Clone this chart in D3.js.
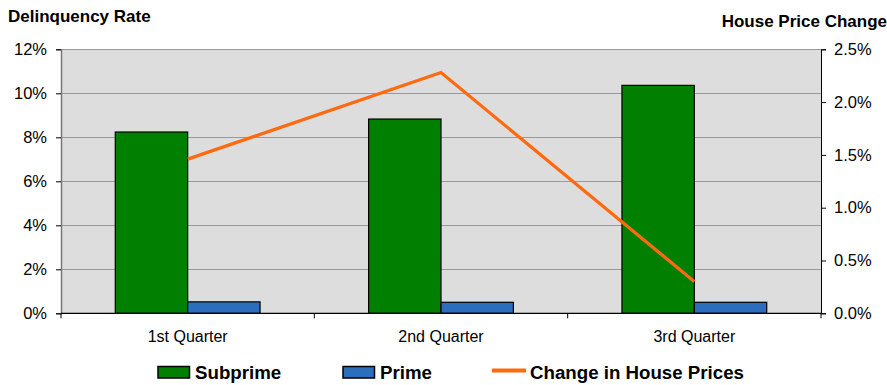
<!DOCTYPE html>
<html><head><meta charset="utf-8">
<script src="https://cdn.jsdelivr.net/npm/d3@7"></script>
<style>
html,body{margin:0;padding:0;background:#fff;}
svg{display:block;font-family:"Liberation Sans",Arial,sans-serif;}
</style></head>
<body><svg id="c" width="887" height="385"></svg>
<script>
const categories = ["1st Quarter", "2nd Quarter", "3rd Quarter"];
const seriesNames = ["Subprime", "Prime"];
const subprime = [8.24, 8.83, 10.36];
const prime = [0.52, 0.5, 0.5];
const housePriceChange = [1.46, 2.28, 0.3];
const leftTicks = [0, 2, 4, 6, 8, 10, 12];
const rightTicks = [0, 0.5, 1.0, 1.5, 2.0, 2.5];
const lineName = "Change in House Prices";

const colors = {Subprime: "#007f00", Prime: "#2a6ebd"};
const lineColor = "#ff6a10";

const svg = d3.select("#c");
const L = 61, R = 821, T = 49.3, B = 313.3;

const x = d3.scaleBand().domain(categories).range([L, R]).padding(0);
const x1 = d3.scaleBand().domain(seriesNames).range([0, x.bandwidth()]).paddingInner(0).paddingOuter(0.75);
const yL = d3.scaleLinear().domain([0, 12]).range([B, T]);
const yR = d3.scaleLinear().domain([0, 2.5]).range([B, T]);

// plot background
svg.append("rect").attr("x", L).attr("y", T).attr("width", R - L).attr("height", B - T).attr("fill", "#dddddd");

// gridlines
svg.append("g").selectAll("line").data(leftTicks.filter(d => d > 0)).join("line")
  .attr("x1", L).attr("x2", R).attr("y1", d => Math.round(yL(d)) + 0.5).attr("y2", d => Math.round(yL(d)) + 0.5)
  .attr("stroke", "#999").attr("stroke-width", 1);

// bars
const data = categories.map((c, i) => ({c, vals: [{s: "Subprime", v: subprime[i]}, {s: "Prime", v: prime[i]}]}));
const g = svg.append("g").selectAll("g").data(data).join("g").attr("transform", d => `translate(${x(d.c)},0)`);
g.selectAll("rect").data(d => d.vals).join("rect")
  .attr("x", d => x1(d.s)).attr("width", x1.bandwidth())
  .attr("y", d => yL(d.v)).attr("height", d => B - yL(d.v))
  .attr("fill", d => colors[d.s]).attr("stroke", "#000").attr("stroke-width", 1.2);

// line
const line = d3.line().x((d, i) => x(categories[i]) + x.bandwidth() / 2).y(d => yR(d));
svg.append("path").datum(housePriceChange).attr("d", line)
  .attr("fill", "none").attr("stroke", lineColor).attr("stroke-width", 3.2).attr("stroke-linejoin", "miter");

// left axis
const ax = svg.append("g").attr("transform", `translate(${L},0)`)
  .call(d3.axisLeft(yL).tickValues(leftTicks).tickSize(5).tickPadding(9).tickFormat(d => d + "%"));
ax.select(".domain").attr("stroke", "#777").attr("stroke-width", 1.5);
ax.selectAll(".tick line").attr("stroke", "#000");
ax.selectAll("text").attr("font-size", 16.5).attr("fill", "#000").attr("font-family", "Liberation Sans, Arial, sans-serif");

// right axis
const ar = svg.append("g").attr("transform", `translate(${R},0)`)
  .call(d3.axisRight(yR).tickValues(rightTicks).tickSize(5).tickPadding(8).tickFormat(d => d.toFixed(1) + "%"));
ar.select(".domain").attr("stroke", "#000");
ar.selectAll(".tick line").attr("stroke", "#000");
ar.selectAll("text").attr("font-size", 16.5).attr("fill", "#000").attr("font-family", "Liberation Sans, Arial, sans-serif");

// bottom axis
const ab = svg.append("g").attr("transform", `translate(0,${B})`);
ab.append("line").attr("x1", L).attr("x2", R).attr("y1", 0).attr("y2", 0).attr("stroke", "#000").attr("stroke-width", 1.2);
const bounds = [L, ...categories.slice(1).map(c => x(c)), R];
ab.selectAll("line.t").data(bounds).join("line").attr("class", "t")
  .attr("x1", d => d).attr("x2", d => d).attr("y1", 0).attr("y2", 5).attr("stroke", "#000");
ab.selectAll("text").data(categories).join("text")
  .attr("x", d => x(d) + x.bandwidth() / 2).attr("y", 28.5).attr("text-anchor", "middle")
  .attr("font-size", 16).attr("fill", "#000").text(d => d);

// titles
svg.append("text").attr("x", 8).attr("y", 22).attr("font-size", 17).attr("font-weight", "bold").text("Delinquency Rate");
svg.append("text").attr("x", 887).attr("y", 27).attr("text-anchor", "end").attr("font-size", 17).attr("font-weight", "bold").text("House Price Change");

// legend
const lg = svg.append("g");
const legItems = [
  {name: "Subprime", type: "box", x: 158},
  {name: "Prime", type: "box", x: 343},
  {name: lineName, type: "line", x: 492}
];
legItems.forEach(it => {
  if (it.type === "box") {
    lg.append("rect").attr("x", it.x).attr("y", 366.5).attr("width", 31.5).attr("height", 11.5)
      .attr("fill", colors[it.name]).attr("stroke", "#000").attr("stroke-width", 1.5);
    lg.append("text").attr("x", it.x + 37).attr("y", 378.5).attr("font-size", 18.7).attr("font-weight", "bold").text(it.name);
  } else {
    lg.append("line").attr("x1", it.x).attr("x2", it.x + 34).attr("y1", 370.5).attr("y2", 370.5)
      .attr("stroke", lineColor).attr("stroke-width", 4);
    lg.append("text").attr("x", it.x + 38).attr("y", 378.5).attr("font-size", 18.7).attr("font-weight", "bold").text(it.name);
  }
});
</script></body></html>
